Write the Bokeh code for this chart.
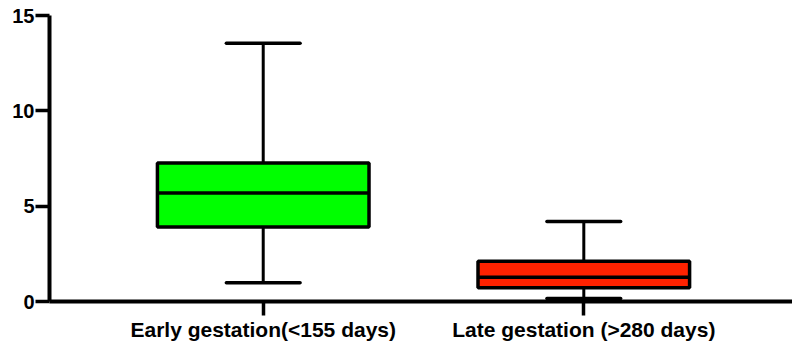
from bokeh.plotting import figure
from bokeh.models import Range1d, FixedTicker
from bokeh.embed import file_html
from bokeh.resources import INLINE

# Box plot summaries: whisker min, lower quartile, median, upper quartile, whisker max
groups = ["Early gestation(<155 days)", "Late gestation (>280 days)"]
positions = [1, 2]
whisker_low = [0.98, 0.16]
q1 = [3.91, 0.72]
median = [5.69, 1.27]
q3 = [7.26, 2.11]
whisker_high = [13.54, 4.20]
fill_colors = ["#00FF00", "#FF2200"]
y_ticks = [0, 5, 10, 15]

box_width = 0.66
cap_width = 0.23
FONT = "Liberation Sans"

p = figure(width=792, height=343, output_backend="svg", toolbar_location=None,
           x_range=Range1d(1 / 3, 2.651), y_range=Range1d(0, 15),
           min_border_left=49, min_border_right=0, min_border_top=15,
           min_border_bottom=41)
p.outline_line_color = None
p.xgrid.visible = False
p.ygrid.visible = False
p.background_fill_color = "white"
p.border_fill_color = "white"

# whiskers
p.segment(x0=positions, x1=positions, y0=whisker_low, y1=q1,
          line_color="black", line_width=3)
p.segment(x0=positions, x1=positions, y0=q3, y1=whisker_high,
          line_color="black", line_width=3)
# whisker caps
xl = [x - cap_width / 2 for x in positions]
xr = [x + cap_width / 2 for x in positions]
p.segment(x0=xl, x1=xr, y0=whisker_low, y1=whisker_low,
          line_color="black", line_width=3.5, line_cap="round")
p.segment(x0=xl, x1=xr, y0=whisker_high, y1=whisker_high,
          line_color="black", line_width=3.5, line_cap="round")
# boxes
p.vbar(x=positions, width=box_width, bottom=q1, top=q3,
       fill_color=fill_colors, line_color="black", line_width=3.5)
# medians
bl = [x - box_width / 2 for x in positions]
br = [x + box_width / 2 for x in positions]
p.segment(x0=bl, x1=br, y0=median, y1=median,
          line_color="black", line_width=3.5)

# axes
for ax in (p.xaxis[0], p.yaxis[0]):
    ax.axis_line_width = 4
    ax.axis_line_color = "black"
    ax.major_tick_line_width = 3.5
    ax.major_tick_line_color = "black"
    ax.major_tick_in = 0
    ax.major_tick_out = 14
    ax.minor_tick_line_color = None
    ax.major_label_text_font = FONT
    ax.major_label_text_font_style = "bold"
    ax.major_label_text_color = "black"

p.xaxis.ticker = FixedTicker(ticks=positions)
p.xaxis.major_label_overrides = {x: g for x, g in zip(positions, groups)}
p.xaxis.major_label_text_font_size = "21px"
p.xaxis.major_label_standoff = 2

p.yaxis.ticker = FixedTicker(ticks=y_ticks)
p.yaxis.major_label_text_font_size = "20px"
p.yaxis.major_label_standoff = 1

open("out.html", "w").write(file_html(p, INLINE))
